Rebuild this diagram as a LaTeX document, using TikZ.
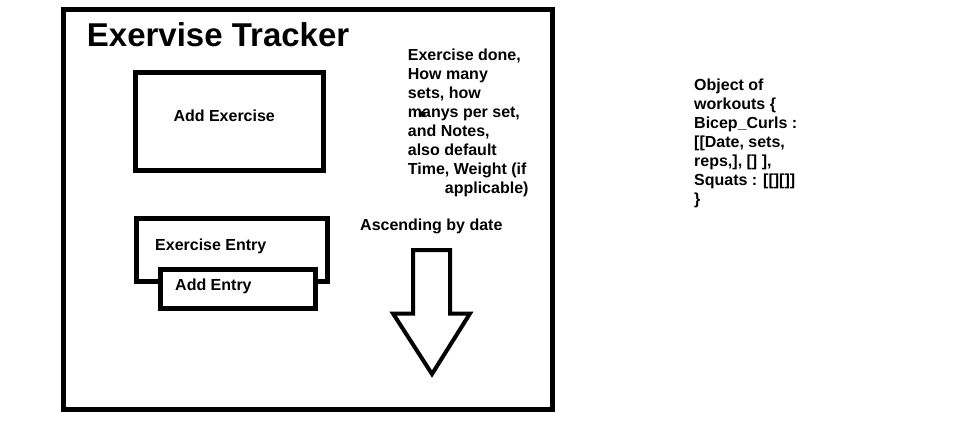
\documentclass[tikz,border=0pt]{standalone}
\usepackage{fontspec}
\setmainfont{Liberation Sans}

\begin{document}
\begin{tikzpicture}[x=1pt,y=-1pt,
    every node/.style={inner sep=0pt,font=\bfseries\fontsize{16}{19}\selectfont},
    box/.style={draw,line width=5pt,fill=white},
    txt/.style={anchor=base west,align=left}]
  \useasboundingbox (0,0) rectangle (967,441);
  % screen frame
  \node[box,minimum width=489.5pt,minimum height=399.5pt] (frame) at (307.75,209.25) {};
  \node[txt,font=\bfseries\fontsize{33}{38}\selectfont] (title) at (86.7,46.7) {Exervise Tracker};
  % buttons
  \node[box,minimum width=188pt,minimum height=98pt] (addex) at (229.5,121.5) {};
  \node[txt] (addexlbl) at (173.3,121.7) {Add Exercise};
  \node[box,minimum width=191pt,minimum height=63pt] (entry) at (232,250) {};
  \node[txt] (entrylbl) at (155,250.7) {Exercise Entry};
  \node[box,minimum width=155.5pt,minimum height=39pt] (addentry) at (237.75,289) {};
  \node[txt] (addentrylbl) at (175,290) {Add Entry};
  % notes (base = last line)
  \node[txt] (fields) at (407.7,193.7) {Exercise done,\\How many\\sets, how\\manys per set,\\and Notes,\\also default\\Time, Weight (if\\\hspace*{37pt}applicable)};
  \fill (422.7,114) circle (3pt);
  \node[txt] (order) at (360,230) {Ascending by date};
  \draw[line width=4pt] (413,250) -- (450,250) -- (450,313.5) -- (470,313.5)
    -- (432,374) -- (393,313.5) -- (413,313.5) -- cycle;
  % data model
  \node[txt] (model) at (694,204.7) {Object of\\workouts \{\\Bicep\_Curls :\\{}[[Date, sets,\\reps,], [] ],\\Squats : [[][]]\\\}};
\end{tikzpicture}
\end{document}
